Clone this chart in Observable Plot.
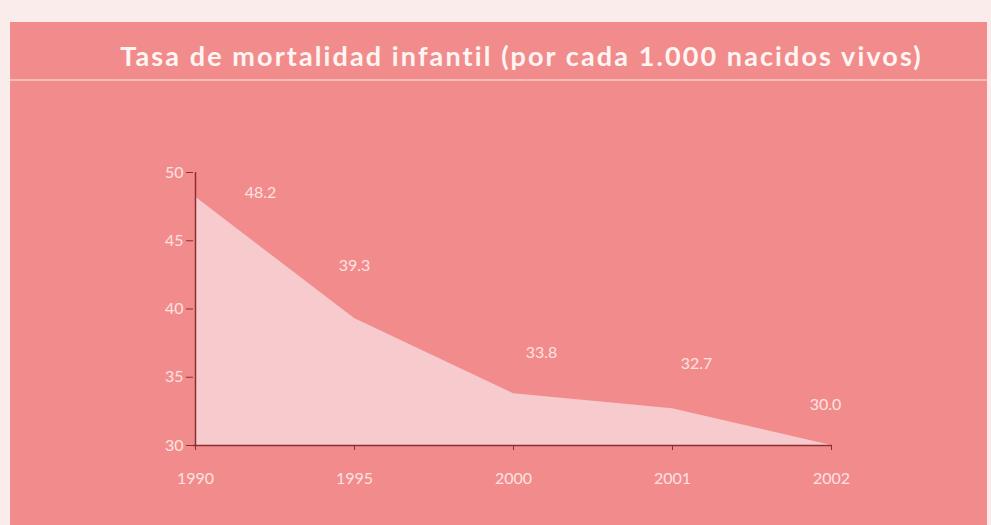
<!DOCTYPE html>
<html><head><meta charset="utf-8">
<script src="https://cdn.jsdelivr.net/npm/d3@7"></script>
<script src="https://cdn.jsdelivr.net/npm/@observablehq/plot@0.6"></script>
<style>
  html,body{margin:0;padding:0;background:#f9ecea;}
  #page{position:relative;width:991px;height:525px;overflow:hidden;background:#f9ecea;}
  #panel{position:absolute;left:10px;top:22px;width:977px;height:503px;background:#f28c8c;}
  #title{position:absolute;left:26px;top:39px;width:991px;text-align:center;color:#fff6f4;
    font-family:Lato,"Open Sans",sans-serif;font-weight:700;font-size:27px;letter-spacing:2.1px;margin:0;}
  #rule{position:absolute;left:10px;top:79px;width:977px;height:2px;background:#f8bcb6;}
  #chart{position:absolute;left:0;top:100px;}
</style></head>
<body>
<div id="page">
  <div id="panel"></div>
  <h2 id="title">Tasa de mortalidad infantil (por cada 1.000 nacidos vivos)</h2>
  <div id="rule"></div>
  <div id="chart"></div>
</div>
<script>
const years = ["1990", "1995", "2000", "2001", "2002"];
const rates = [48.2, 39.3, 33.8, 32.7, 30.0];
const rateLabels = ["48.2", "39.3", "33.8", "32.7", "30.0"];
const yTicks = [30, 35, 40, 45, 50];

const data = years.map((y, i) => ({year: y, value: rates[i], label: rateLabels[i]}));

// label offsets (style, not data)
const offs = [[65, -4], [0, -53], [28, -41], [24, -45], [-6, -41]];
const labelColor = "#fde2e0";
const axisColor = "#8a2f30";

const labelMarks = data.map((d, i) => Plot.text([d], {
  x: "year", y: "value", text: "label", dx: offs[i][0], dy: offs[i][1],
  fill: labelColor, fontSize: 16, fontFamily: "Lato, sans-serif"
}));

const chart = Plot.plot({
  width: 991, height: 425,
  marginLeft: 193, marginRight: 159, marginTop: 72, marginBottom: 80,
  style: {background: "transparent", fontFamily: "Lato, sans-serif"},
  x: {type: "point", domain: years, padding: 0},
  y: {domain: [30, 50]},
  marks: [
    Plot.areaY(data, {x: "year", y1: 30, y2: "value", curve: "linear", fill: "#f7cbce"}),
    Plot.ruleY([30], {stroke: axisColor, strokeWidth: 1.5}),
    Plot.ruleX([years[0]], {y1: 30, y2: 50, stroke: axisColor, strokeWidth: 1.5}),
    Plot.axisY(yTicks, {tickSize: 7, tickPadding: 3, stroke: axisColor, fill: labelColor, fontSize: 16, label: null}),
    Plot.axisX({tickSize: 5, tickPadding: 22, stroke: axisColor, fill: labelColor, fontSize: 16, label: null}),
    ...labelMarks
  ]
});
document.getElementById("chart").appendChild(chart);
</script>
</body></html>
